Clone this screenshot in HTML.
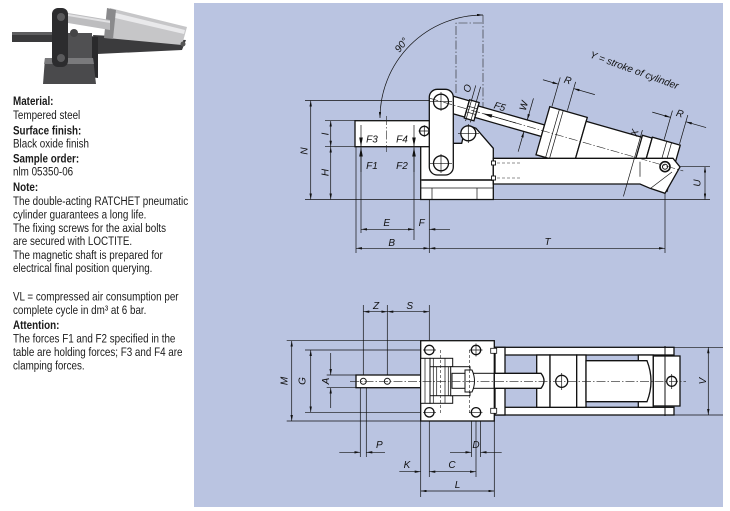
<!DOCTYPE html>
<html><head><meta charset="utf-8"><style>
html,body{margin:0;padding:0;background:#fff;}
svg{display:block;}
.o{stroke:#111;stroke-width:1.3;fill:#fff;}
.t{stroke:#111;stroke-width:0.7;fill:none;}
.c{stroke:#222;stroke-width:0.6;fill:none;stroke-dasharray:9 2 1.5 2;}
.h{stroke:#222;stroke-width:0.6;fill:none;stroke-dasharray:3 2;}
.lb{font-family:"Liberation Sans",Arial,sans-serif;font-style:italic;font-size:10px;fill:#111;}
.tx{font-family:"Liberation Sans",Arial,sans-serif;font-size:12px;fill:#1a1a1a;}
.b{font-weight:bold;}
</style></head><body>
<svg width="730" height="511" viewBox="0 0 730 511" xmlns="http://www.w3.org/2000/svg">
<defs>
<marker id="a" viewBox="0 0 10 4" refX="10" refY="2" markerWidth="6" markerHeight="2.4" markerUnits="userSpaceOnUse" orient="auto-start-reverse"><path d="M0,0L10,2L0,4z" fill="#111"/></marker>
<marker id="f" viewBox="0 0 10 4" refX="10" refY="2" markerWidth="9" markerHeight="3.6" markerUnits="userSpaceOnUse" orient="auto-start-reverse"><path d="M0,0L10,2L0,4z" fill="#111"/></marker>
</defs>
<rect width="730" height="511" fill="#fff"/>

<!-- photo -->
<g>
<polygon points="93,35 186,40 182,50 97,54" fill="#3b3b3d"/>
<polygon points="90,36 98,37 98,78 90,77" fill="#2a2a2c"/>
<polygon points="110,8 187,27 182,45 107,38" fill="#c6c6c8"/>
<polygon points="112,12 185,30 184,34 111,17" fill="#e9e9eb"/>
<polygon points="107,8 116,10 113,39 104,38" fill="#8a8a8c"/>
<polygon points="68,13 110,20 110,30 68,23" fill="#bdbdbf"/>
<polygon points="68,14 110,21 110,23 68,16" fill="#e2e2e4"/>
<rect x="66" y="33" width="26" height="27" fill="#505052"/>
<polygon points="45,58 93,58 96,84 43,84" fill="#4a4a4c"/>
<polygon points="45,58 93,58 94,64 44,64" fill="#7a7a7c"/>
<rect x="12" y="32" width="55" height="10" fill="#3a3a3c"/>
<rect x="12" y="32" width="55" height="3" fill="#5e5e60"/>
<rect x="52" y="8" width="16" height="59" rx="6" fill="#2c2c2e"/>
<circle cx="61" cy="17" r="4" fill="#5a5a5c"/>
<circle cx="61" cy="58" r="4" fill="#5a5a5c"/>
<circle cx="74" cy="33" r="4" fill="#444446"/>
<circle cx="183" cy="44" r="2.5" fill="#555"/>
</g>

<!-- left text -->
<g class="tx">
<text class="b" transform="translate(13,105) scale(0.82,1)">Material:</text>
<text transform="translate(13,119) scale(0.82,1)">Tempered steel</text>
<text class="b" transform="translate(13,134.5) scale(0.82,1)">Surface finish:</text>
<text transform="translate(13,147.5) scale(0.82,1)">Black oxide finish</text>
<text class="b" transform="translate(13,162.5) scale(0.82,1)">Sample order:</text>
<text transform="translate(13,175.5) scale(0.82,1)">nlm 05350-06</text>
<text class="b" transform="translate(13,191) scale(0.82,1)">Note:</text>
<text transform="translate(13,205) scale(0.82,1)">The double-acting RATCHET pneumatic</text>
<text transform="translate(13,218.5) scale(0.82,1)">cylinder guarantees a long life.</text>
<text transform="translate(13,232) scale(0.82,1)">The fixing screws for the axial bolts</text>
<text transform="translate(13,245) scale(0.82,1)">are secured with LOCTITE.</text>
<text transform="translate(13,259) scale(0.82,1)">The magnetic shaft is prepared for</text>
<text transform="translate(13,272) scale(0.82,1)">electrical final position querying.</text>
<text transform="translate(13,300.5) scale(0.82,1)">VL = compressed air consumption per</text>
<text transform="translate(13,314) scale(0.82,1)">complete cycle in dm³ at 6 bar.</text>
<text class="b" transform="translate(13,329) scale(0.82,1)">Attention:</text>
<text transform="translate(13,342.5) scale(0.82,1)">The forces F1 and F2 specified in the</text>
<text transform="translate(13,356) scale(0.82,1)">table are holding forces; F3 and F4 are</text>
<text transform="translate(13,369.5) scale(0.82,1)">clamping forces.</text>
</g>

<!-- blue panel -->
<rect x="194" y="3" width="529" height="504" fill="#bac4e1"/>

<!-- ===== SIDE VIEW ===== -->
<!-- ghost lever -->
<path class="c" d="M456,93 V23 H483 M483,15 V112"/>
<!-- 90 deg arc -->
<path class="t" d="M483,15 A103,103 0 0 0 380,118" marker-start="url(#a)" marker-end="url(#a)"/>
<text class="lb" transform="translate(404,47) rotate(-52)" text-anchor="middle">90°</text>

<!-- dimension lines -->
<line class="t" x1="305" y1="100.5" x2="436" y2="100.5"/>
<line class="t" x1="305" y1="199.5" x2="710" y2="199.5"/>
<line class="t" x1="310.7" y1="100.5" x2="310.7" y2="199.5" marker-start="url(#a)" marker-end="url(#a)"/>
<line class="t" x1="325" y1="120.7" x2="356" y2="120.7"/>
<line class="t" x1="325" y1="146.7" x2="356" y2="146.7"/>
<line class="t" x1="330.7" y1="120.7" x2="330.7" y2="146.7" marker-start="url(#a)" marker-end="url(#a)"/>
<line class="t" x1="330.7" y1="146.7" x2="330.7" y2="199.5" marker-start="url(#a)" marker-end="url(#a)"/>
<line class="t" x1="356" y1="147" x2="356" y2="253"/>
<line class="t" x1="361" y1="150" x2="361" y2="233"/>
<line class="t" x1="414" y1="150" x2="414" y2="240"/>
<line class="t" x1="429.3" y1="200" x2="429.3" y2="253"/>
<line class="t" x1="665" y1="172" x2="665" y2="253"/>
<line class="t" x1="361" y1="229.3" x2="414" y2="229.3" marker-start="url(#a)" marker-end="url(#a)"/>
<line class="t" x1="429.3" y1="229.3" x2="450" y2="229.3" marker-start="url(#a)"/>
<line class="t" x1="356" y1="248.3" x2="429.3" y2="248.3" marker-start="url(#a)" marker-end="url(#a)"/>
<line class="t" x1="429.3" y1="248.3" x2="665" y2="248.3" marker-start="url(#a)" marker-end="url(#a)"/>
<line class="t" x1="671" y1="166.7" x2="710" y2="166.7"/>
<line class="t" x1="705" y1="166.7" x2="705" y2="199.5" marker-start="url(#a)" marker-end="url(#a)"/>

<!-- body -->
<polygon class="o" points="420.7,143.3 461.7,143.3 465,129.3 470,126 476,128.3 493.3,148.3 493.3,199.5 420.7,199.5"/>
<line x1="421" y1="180" x2="493" y2="180" stroke="#444" stroke-width="2"/>
<line class="t" x1="421" y1="188" x2="493" y2="188"/>
<line class="t" x1="432" y1="188" x2="432" y2="199.5"/>
<line class="t" x1="477" y1="188" x2="477" y2="199.5"/>

<!-- clamp arm -->
<rect class="o" x="355" y="120.7" width="77" height="26"/>
<line class="c" x1="386.7" y1="116" x2="386.7" y2="152"/>
<circle class="o" cx="424.3" cy="131" r="4.7"/>
<path class="t" d="M418.5,131H430M424.3,125.3V136.7"/>

<!-- cylinder (rotated) -->
<g transform="translate(441,101.5) rotate(16)">
<rect class="o" x="-4" y="-8.5" width="31" height="17"/>
<rect class="o" x="27" y="-9.5" width="10" height="19"/>
<path class="t" d="M27,-3H37M27,3H37"/>
<rect class="o" x="37" y="-6" width="69" height="12"/>
<rect class="o" x="106" y="-25" width="39" height="50"/>
<path class="t" d="M116,-25V25M120,-25V25"/>
<rect class="o" x="145" y="-21" width="60" height="42"/>
<rect class="o" x="203" y="-23" width="10" height="46"/>
<rect class="o" x="213" y="-24" width="29" height="48"/>
<path class="t" d="M228,-24V10M233,-24V10"/>
</g>

<!-- base arm -->
<polygon class="o" points="493.3,158.3 673,158.3 680,167 665,193.3 650,188.3 640,184 493.3,184"/>
<line class="t" x1="651" y1="188" x2="672" y2="172"/>
<line class="t" x1="640" y1="161.7" x2="640" y2="176.7"/>
<rect class="o" x="491.5" y="161" width="4" height="4" style="stroke-width:0.9"/>
<rect class="o" x="491.5" y="176" width="4" height="4" style="stroke-width:0.9"/>
<path class="h" d="M497,163H520M497,178H520"/>
<circle cx="665" cy="166.7" r="5" fill="#fff" stroke="#111" stroke-width="1.6"/>
<circle cx="665" cy="166.7" r="2.5" fill="none" stroke="#111" stroke-width="1"/>

<!-- link -->
<rect class="o" x="429.3" y="89.3" width="24" height="85.7" rx="8"/>
<circle class="o" cx="441" cy="101.7" r="7.5"/>
<circle class="o" cx="441" cy="163.3" r="7.5"/>
<circle class="o" cx="468.3" cy="133.3" r="7.5"/>
<path class="t" d="M430,101.7H452M441,92V111M430,163.3H452M441,154V173M458,133.3H479M468.3,124V143"/>

<!-- cylinder overlays: centerline + dims -->
<g transform="translate(441,101.5) rotate(16)">
<line class="c" x1="-12" y1="0" x2="252" y2="0"/>
<line class="t" x1="78" y1="0" x2="44" y2="0" marker-end="url(#f)"/>
<text class="lb" x="52" y="-8">F5</text>
<path class="t" d="M29,-25V12M34,-25V12"/>
<text class="lb" transform="translate(25,-16) rotate(-90)">O</text>
<line class="t" x1="88" y1="-28.5" x2="88" y2="-6" marker-end="url(#a)"/>
<line class="t" x1="88" y1="27" x2="88" y2="6" marker-end="url(#a)"/>
<text class="lb" transform="translate(84,-14) rotate(-90)">W</text>
<path class="t" d="M108,-26V-56M124,-26V-56"/>
<line class="t" x1="92" y1="-49" x2="108" y2="-49" marker-end="url(#a)"/>
<line class="t" x1="146" y1="-49" x2="124" y2="-49" marker-end="url(#a)"/>
<text class="lb" x="116" y="-52" text-anchor="middle">R</text>
<path class="t" d="M225,-25V-55M241,-25V-55"/>
<line class="t" x1="206" y1="-48" x2="225" y2="-48" marker-end="url(#a)"/>
<line class="t" x1="262" y1="-48" x2="241" y2="-48" marker-end="url(#a)"/>
<text class="lb" x="233" y="-51" text-anchor="middle">R</text>
<line class="t" x1="201.5" y1="-28" x2="201.5" y2="41"/>
<text class="lb" transform="translate(198,-20) rotate(-90)">X</text>
<text class="lb" transform="translate(177,-80) rotate(4)" text-anchor="middle">Y = stroke of cylinder</text>
</g>

<!-- force arrows -->
<line class="t" x1="361" y1="125" x2="361" y2="146.5" marker-end="url(#f)"/>
<line class="t" x1="361" y1="172" x2="361" y2="147.5" marker-end="url(#f)"/>
<line class="t" x1="414" y1="125" x2="414" y2="146.5" marker-end="url(#f)"/>
<line class="t" x1="414" y1="172" x2="414" y2="147.5" marker-end="url(#f)"/>

<!-- side view labels -->
<g class="lb">
<text x="372" y="142.5" text-anchor="middle">F3</text>
<text x="402" y="142.5" text-anchor="middle">F4</text>
<text x="372" y="169" text-anchor="middle">F1</text>
<text x="402" y="169" text-anchor="middle">F2</text>
<text transform="translate(307.5,151) rotate(-90)" text-anchor="middle">N</text>
<text transform="translate(328.5,134) rotate(-90)" text-anchor="middle">I</text>
<text transform="translate(328.5,172.5) rotate(-90)" text-anchor="middle">H</text>
<text x="386.7" y="226" text-anchor="middle">E</text>
<text x="421.7" y="226" text-anchor="middle">F</text>
<text x="391.7" y="246" text-anchor="middle">B</text>
<text x="547.5" y="245" text-anchor="middle">T</text>
<text transform="translate(700.5,183) rotate(-90)" text-anchor="middle">U</text>
</g>

<!-- ===== BOTTOM VIEW ===== -->
<!-- dims -->
<line class="t" x1="286.7" y1="340.7" x2="420.7" y2="340.7"/>
<line class="t" x1="286.7" y1="421" x2="420.7" y2="421"/>
<line class="t" x1="291.7" y1="340.7" x2="291.7" y2="421" marker-start="url(#a)" marker-end="url(#a)"/>
<line class="t" x1="305" y1="350" x2="425" y2="350"/>
<line class="t" x1="305" y1="412.3" x2="425" y2="412.3"/>
<line class="t" x1="310.7" y1="350" x2="310.7" y2="412.3" marker-start="url(#a)" marker-end="url(#a)"/>
<line class="t" x1="326.7" y1="375" x2="356" y2="375"/>
<line class="t" x1="326.7" y1="387.7" x2="356" y2="387.7"/>
<line class="t" x1="330.7" y1="353" x2="330.7" y2="375" marker-end="url(#a)"/>
<line class="t" x1="330.7" y1="408" x2="330.7" y2="387.7" marker-end="url(#a)"/>
<line class="t" x1="363.3" y1="305" x2="363.3" y2="378"/>
<line class="t" x1="387.3" y1="305" x2="387.3" y2="378"/>
<line class="t" x1="429.3" y1="305" x2="429.3" y2="477"/>
<line class="t" x1="363.3" y1="311.7" x2="387.3" y2="311.7" marker-start="url(#a)" marker-end="url(#a)"/>
<line class="t" x1="387.3" y1="311.7" x2="429.3" y2="311.7" marker-start="url(#a)" marker-end="url(#a)"/>
<line class="t" x1="360.3" y1="388" x2="360.3" y2="457"/>
<line class="t" x1="366.3" y1="388" x2="366.3" y2="457"/>
<line class="t" x1="339.3" y1="452.3" x2="360.3" y2="452.3" marker-end="url(#a)"/>
<line class="t" x1="385" y1="452.3" x2="366.3" y2="452.3" marker-end="url(#a)"/>
<line class="t" x1="471.5" y1="414" x2="471.5" y2="457"/>
<line class="t" x1="480.5" y1="414" x2="480.5" y2="457"/>
<line class="t" x1="450" y1="452.3" x2="471.5" y2="452.3" marker-end="url(#a)"/>
<line class="t" x1="501.7" y1="452.3" x2="480.5" y2="452.3" marker-end="url(#a)"/>
<line class="t" x1="476" y1="414" x2="476" y2="477"/>
<line class="t" x1="399.3" y1="471.7" x2="420.7" y2="471.7" marker-end="url(#a)"/>
<line class="t" x1="429.3" y1="471.7" x2="476" y2="471.7" marker-start="url(#a)" marker-end="url(#a)"/>
<line class="t" x1="420.7" y1="421" x2="420.7" y2="497"/>
<line class="t" x1="494.3" y1="421" x2="494.3" y2="497"/>
<line class="t" x1="420.7" y1="491" x2="494.3" y2="491" marker-start="url(#a)" marker-end="url(#a)"/>
<line class="t" x1="674" y1="347.3" x2="723" y2="347.3"/>
<line class="t" x1="674" y1="415" x2="723" y2="415"/>
<line class="t" x1="708.3" y1="347.3" x2="708.3" y2="415" marker-start="url(#a)" marker-end="url(#a)"/>

<!-- cylinder frame -->
<rect class="o" x="495" y="347.3" width="179" height="7.7"/>
<rect class="o" x="495" y="407.3" width="179" height="7.7"/>
<rect class="o" x="495" y="347.3" width="10" height="67.7"/>
<rect class="o" x="536.7" y="355" width="13.3" height="52.3"/>
<rect class="o" x="550" y="355" width="26.7" height="52.3"/>
<rect class="o" x="576.7" y="355" width="9.3" height="52.3"/>
<rect class="o" x="638.3" y="355" width="15" height="52.3"/>
<path class="o" d="M586,360.7H647Q655,381 647,401.7H586Z"/>
<rect class="o" x="653.3" y="356" width="26.7" height="50"/>
<line class="t" x1="665" y1="346" x2="665" y2="416" style="stroke-width:1"/>
<circle class="o" cx="561.7" cy="381.3" r="6"/>
<circle class="o" cx="671.7" cy="381.3" r="5"/>
<path class="t" d="M561.7,373V390M671.7,374V389"/>
<path class="o" d="M494,373.3H541Q547,380.8 541,388.3H494Z"/>

<!-- lever bar -->
<rect class="o" x="356" y="375" width="65" height="12.7"/>
<circle class="o" cx="363.3" cy="381.3" r="3" style="stroke-width:1"/>
<circle class="o" cx="387.3" cy="381.3" r="3" style="stroke-width:1"/>

<!-- plate -->
<rect class="o" x="420.7" y="340.7" width="73.6" height="80.3"/>
<rect class="o" x="490.7" y="348.3" width="6" height="5" style="stroke-width:0.8"/>
<rect class="o" x="490.7" y="408.3" width="6" height="5" style="stroke-width:0.8"/>
<rect class="o" x="420.7" y="358.3" width="9.3" height="45" style="stroke-width:1"/>
<rect class="o" x="430" y="358.3" width="22.7" height="45" style="stroke-width:1"/>
<rect class="o" x="430" y="366.7" width="22" height="29" style="stroke-width:1"/>
<path class="t" d="M425,358.3V403.3M433.3,358.3V403.3M436.7,366.7V395.7M445,358.3V403.3M448.3,366.7V395.7"/>
<rect class="o" x="450.7" y="366.7" width="19.3" height="29" style="stroke-width:1"/>
<rect class="o" x="452" y="373.3" width="42" height="15" style="stroke-width:1"/>
<path class="o" d="M465,370H472Q477,381 472,392H465Z" style="stroke-width:1"/>
<path class="h" d="M440.7,350V413M469.3,350V413"/>
<circle class="o" cx="429.3" cy="350" r="4.7"/>
<circle class="o" cx="476" cy="350" r="4.7"/>
<circle class="o" cx="429.3" cy="412.3" r="4.7"/>
<circle class="o" cx="476" cy="412.3" r="4.7"/>
<path class="t" d="M423,350H436M469.5,350H482.5M423,412.3H436M469.5,412.3H482.5M476,343.5V356.5"/>

<!-- centre line -->
<line class="c" x1="350" y1="381.3" x2="686" y2="381.3"/>

<!-- bottom view labels -->
<g class="lb">
<text x="376" y="309" text-anchor="middle">Z</text>
<text x="409.7" y="309" text-anchor="middle">S</text>
<text transform="translate(287.5,381) rotate(-90)" text-anchor="middle">M</text>
<text transform="translate(305.5,381) rotate(-90)" text-anchor="middle">G</text>
<text transform="translate(329,381) rotate(-90)" text-anchor="middle">A</text>
<text x="379.3" y="448" text-anchor="middle">P</text>
<text x="476" y="448" text-anchor="middle">D</text>
<text x="407" y="468" text-anchor="middle">K</text>
<text x="452" y="468" text-anchor="middle">C</text>
<text x="457.5" y="488" text-anchor="middle">L</text>
<text transform="translate(706,381) rotate(-90)" text-anchor="middle">V</text>
</g>
</svg>
</body></html>
